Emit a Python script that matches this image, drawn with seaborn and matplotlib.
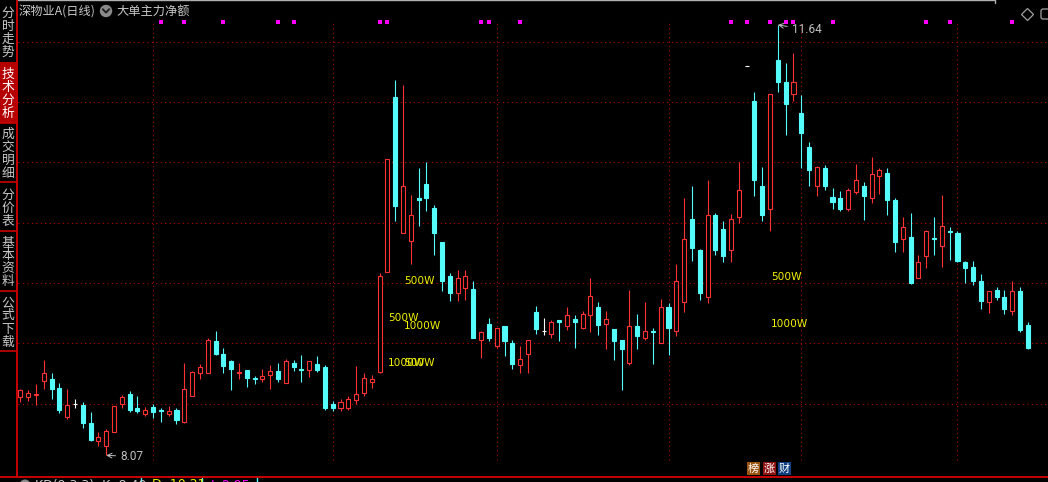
import matplotlib
matplotlib.use("Agg")
import matplotlib.pyplot as plt
import seaborn as sns
import numpy as np
import pandas as pd
from matplotlib.patches import Rectangle, Circle, FancyBboxPatch
from matplotlib.lines import Line2D

# ---------------- data (daily OHLC, 深物业A) ----------------
opens = [8.55, 8.55, 8.57, 8.69, 8.70, 8.63, 8.39, 8.50, 8.49, 8.34,
         8.19, 8.15, 8.26, 8.50, 8.58, 8.46, 8.41, 8.47, 8.45, 8.41,
         8.45, 8.35, 8.56, 8.75, 8.75, 9.02, 8.91, 8.85, 8.75, 8.78,
         8.71, 8.70, 8.74, 8.77, 8.67, 8.84, 8.79, 8.78, 8.83, 8.80,
         8.50, 8.46, 8.46, 8.53, 8.59, 8.68, 8.76, 9.59, 11.04, 9.91,
         9.85, 10.20, 10.32, 10.12, 9.84, 9.56, 9.42, 9.46, 9.45, 9.03,
         9.16, 8.98, 9.14, 9.00, 8.82, 8.91, 9.26, 9.10, 9.08, 9.19,
         9.14, 9.20, 9.13, 9.23, 9.30, 9.16, 9.12, 9.03, 8.84, 9.14,
         9.04, 9.10, 9.00, 9.30, 9.10, 9.34, 10.03, 9.77, 9.38, 10.06,
         9.95, 9.77, 10.05, 11.30, 11.01, 10.30, 10.11, 11.35, 11.17, 11.07,
         10.91, 10.63, 10.30, 10.45, 10.21, 10.20, 10.11, 10.25, 10.30, 10.20,
         10.39, 10.41, 10.19, 9.86, 9.88, 9.54, 9.72, 9.87, 9.81, 9.93,
         9.91, 9.67, 9.63, 9.52, 9.34, 9.44, 9.38, 9.27, 9.43, 9.15]
highs = [8.62, 8.61, 8.66, 8.86, 8.75, 8.67, 8.62, 8.54, 8.51, 8.43,
         8.26, 8.29, 8.48, 8.57, 8.60, 8.56, 8.47, 8.50, 8.46, 8.48,
         8.46, 8.84, 8.77, 8.83, 9.04, 9.10, 8.96, 8.86, 8.84, 8.78,
         8.73, 8.79, 8.82, 8.84, 8.87, 8.86, 8.90, 8.85, 8.89, 8.82,
         8.52, 8.54, 8.56, 8.81, 8.75, 8.74, 9.58, 10.53, 11.18, 11.14,
         10.23, 10.45, 10.50, 10.15, 9.84, 9.58, 9.61, 9.61, 9.52, 9.10,
         9.21, 9.13, 9.14, 9.03, 8.98, 9.03, 9.31, 9.21, 9.19, 9.19,
         9.30, 9.23, 9.27, 9.54, 9.34, 9.27, 9.12, 9.03, 9.44, 9.24,
         9.34, 9.13, 9.37, 9.33, 9.66, 10.20, 10.30, 9.78, 10.35, 10.08,
         10.01, 10.07, 10.50, 11.30, 11.08, 10.46, 11.07, 11.64, 11.32, 11.41,
         11.06, 10.67, 10.47, 10.48, 10.29, 10.26, 10.29, 10.49, 10.34, 10.54,
         10.45, 10.45, 10.20, 10.05, 10.08, 9.73, 9.94, 10.05, 10.23, 9.96,
         9.93, 9.68, 9.68, 9.57, 9.43, 9.47, 9.44, 9.52, 9.47, 9.18]
lows = [8.51, 8.52, 8.49, 8.62, 8.54, 8.42, 8.37, 8.46, 8.30, 8.19,
        8.15, 8.07, 8.26, 8.46, 8.43, 8.42, 8.40, 8.38, 8.35, 8.40,
        8.33, 8.34, 8.56, 8.70, 8.75, 8.90, 8.75, 8.61, 8.70, 8.64,
        8.66, 8.68, 8.62, 8.68, 8.67, 8.77, 8.68, 8.72, 8.76, 8.45,
        8.44, 8.44, 8.45, 8.50, 8.56, 8.63, 8.75, 9.59, 10.01, 9.91,
        9.66, 9.97, 10.10, 9.73, 9.43, 9.35, 9.35, 9.36, 9.04, 8.88,
        9.02, 8.96, 8.89, 8.79, 8.75, 8.75, 9.08, 9.07, 9.04, 9.02,
        9.11, 8.96, 9.12, 9.09, 9.07, 8.95, 8.86, 8.61, 8.82, 8.95,
        9.03, 8.83, 9.00, 8.90, 9.06, 9.26, 9.68, 9.36, 9.33, 9.73,
        9.67, 9.67, 10.00, 11.30, 10.22, 10.01, 9.93, 11.08, 10.73, 11.01,
        10.45, 10.30, 10.22, 10.27, 10.11, 10.10, 10.10, 10.24, 10.02, 10.16,
        10.24, 10.06, 9.76, 9.76, 9.49, 9.54, 9.62, 9.73, 9.63, 9.69,
        9.67, 9.50, 9.48, 9.28, 9.25, 9.36, 9.24, 9.23, 9.09, 8.95]
closes = [8.61, 8.59, 8.58, 8.75, 8.62, 8.45, 8.49, 8.50, 8.34, 8.20,
          8.22, 8.27, 8.48, 8.55, 8.45, 8.44, 8.45, 8.43, 8.44, 8.44,
          8.36, 8.62, 8.76, 8.80, 9.03, 8.91, 8.81, 8.79, 8.76, 8.71,
          8.70, 8.73, 8.77, 8.70, 8.85, 8.80, 8.78, 8.85, 8.78, 8.46,
          8.46, 8.51, 8.54, 8.58, 8.71, 8.70, 9.56, 10.53, 10.14, 10.30,
          10.06, 10.19, 10.20, 9.91, 9.52, 9.42, 9.54, 9.56, 9.04, 9.09,
          9.04, 9.13, 9.02, 8.83, 8.87, 9.03, 9.12, 9.10, 9.18, 9.18,
          9.23, 9.18, 9.24, 9.39, 9.15, 9.20, 9.02, 8.95, 9.14, 9.06,
          9.10, 9.09, 9.30, 9.13, 9.52, 9.86, 9.79, 9.42, 10.06, 9.77,
          9.72, 10.03, 10.27, 11.30, 10.35, 10.06, 11.07, 11.17, 10.98, 11.17,
          10.74, 10.44, 10.46, 10.30, 10.17, 10.11, 10.27, 10.35, 10.22, 10.40,
          10.44, 10.19, 9.84, 9.96, 9.50, 9.67, 9.93, 9.86, 9.97, 9.92,
          9.68, 9.62, 9.52, 9.35, 9.43, 9.38, 9.28, 9.43, 9.11, 8.96]

month_starts = [17, 40, 61, 83, 100, 120]          # vertical dotted separators
price_grid = [8.5, 9.0, 9.5, 10.0, 10.5, 11.0, 11.5]
big_order_days = [18, 21, 26, 33, 35, 46, 47, 59, 60, 64,
                  91, 93, 96, 98, 99, 104, 116, 119, 127]
flow_texts = ["500W", "500W", "1000W", "1000W", "500W", "500W", "1000W"]
flow_x = [49.1, 47.1, 49.1, 47.1, 49.1, 96.1, 96.1]
flow_y = [9.52, 9.21, 9.14, 8.84, 8.84, 9.55, 9.16]
low_day, low_price = 11, 8.07
high_day, high_price = 97, 11.64
sidebar_tabs = ["分时走势", "技术分析", "成交明细", "分价表", "基本资料", "公式下载"]

# ---------------- style ----------------
sns.set_theme(style="dark", rc={"axes.facecolor": "black", "figure.facecolor": "black"})
plt.rcParams["font.family"] = ["Noto Sans CJK SC", "DejaVu Sans"]

RED = "#ff3232"
CYAN = "#54fcfc"
GRID = "#b00000"
FRAME = "#c80000"
GRAY = "#c8c8c8"

W, H = 1048, 482
fig = plt.figure(figsize=(W / 100, H / 100), dpi=100, facecolor="black")
T = fig.dpi_scale_trans


def P(x, y):
    return (x / 100.0, (H - y) / 100.0)


ax = fig.add_axes([18 / W, 6 / H, 1030 / W, 456 / H])
ax.set_facecolor("black")
for s in ax.spines.values():
    s.set_visible(False)
ax.set_xticks([])
ax.set_yticks([])
ax.grid(False)

n = len(opens)
df = pd.DataFrame({"day": np.arange(n), "open": opens, "high": highs,
                   "low": lows, "close": closes})
df["color"] = np.where(df.close > df.open, RED, np.where(df.close < df.open, CYAN, "#ffffff"))

# grid
for p in price_grid:
    ax.axhline(p, color=GRID, lw=0.8, ls=(0, (1, 3)), zorder=0.5)
for m in month_starts:
    ax.axvline(m, ymin=0.035, ymax=0.993, color=GRID, lw=0.8, ls=(0, (1, 3)), zorder=0.5)

# wicks
ax.vlines(df.day, df.low, df.high, colors=df.color, linewidth=0.8, zorder=2)

bw = 0.52
up = df[df.close > df.open]
dn = df[df.close < df.open]
fl = df[df.close == df.open]
ax.bar(up.day, up.close - up.open, bottom=up.open, width=bw, facecolor="black",
       edgecolor=RED, linewidth=0.8, zorder=3)
ax.bar(dn.day, dn.close - dn.open, bottom=dn.open, width=bw, facecolor=CYAN,
       edgecolor=CYAN, linewidth=0.8, zorder=3)
ax.bar(fl.day, np.zeros(len(fl)), bottom=fl.open, width=bw, facecolor="white",
       edgecolor="white", linewidth=0.8, zorder=3)

ax.set_xlim(-0.2945, 131.59)
ax.set_ylim(7.899, 11.680)

# big-order markers along the top
marks = pd.DataFrame({"day": big_order_days, "y": [11.66] * len(big_order_days)})
sns.scatterplot(data=marks, x="day", y="y", ax=ax, marker="s", s=7, color="#ff00ff",
                linewidth=0, zorder=4, legend=False)
ax.set_xlabel("")
ax.set_ylabel("")
ax.set_xlim(-0.2945, 131.59)
ax.set_ylim(7.899, 11.680)

# flow labels
for t, xx, yy in zip(flow_texts, flow_x, flow_y):
    ax.text(xx, yy, t, color="#f0f000", fontsize=7.6, ha="left", va="center",
            family="DejaVu Sans", zorder=5)

# high/low annotations
ax.annotate("8.07", xy=(low_day, low_price), xytext=(14, -1), textcoords="offset pixels",
            color="#c0c0c0", fontsize=8.5, family="Roboto", ha="left", va="center",
            arrowprops=dict(arrowstyle="->", color="#c0c0c0", lw=0.7, shrinkA=1, shrinkB=0))
ax.annotate("11.64", xy=(high_day, high_price), xytext=(14, -5), textcoords="offset pixels",
            color="#c0c0c0", fontsize=8.5, family="Roboto", ha="left", va="center",
            arrowprops=dict(arrowstyle="->", color="#c0c0c0", lw=0.7, shrinkA=1, shrinkB=0))

# ---------------- chrome ----------------
def line(xs, ys, color, lw=1.0, **kw):
    pts = [P(a, b) for a, b in zip(xs, ys)]
    fig.add_artist(Line2D([q[0] for q in pts], [q[1] for q in pts], color=color,
                          lw=lw, transform=T, **kw))


def rect(x, y, w, h, fc, ec="none", lw=0):
    x0, y0 = P(x, y + h)
    fig.add_artist(Rectangle((x0, y0), w / 100, h / 100, facecolor=fc, edgecolor=ec,
                             lw=lw, transform=T))


# frame lines
line([17, 17], [0, 477], FRAME, lw=1.4)
line([0, W], [476.5, 476.5], FRAME, lw=1.4)
line([18, 995], [0.5, 0.5], "#b0b0b0", lw=1.0)
line([995, 995], [0, 3], "#b0b0b0", lw=1.0)

# sidebar
bounds = [(0, 61), (62, 122), (123, 181), (182, 230), (231, 290), (291, 350)]
rect(0, 62, 16, 60.5, "#b40000")
for yb in [122.7, 181.7, 230.5, 290.5, 350.5]:
    line([0, 17], [yb, yb], FRAME, lw=1.2)
for (top, bot), tab in zip(bounds, sidebar_tabs):
    mid = (top + bot) / 2 + 2
    k = len(tab)
    pitch = 13.0
    for i, ch in enumerate(tab):
        cy = mid + (i - (k - 1) / 2) * pitch
        fig.text(*P(8, cy), ch, transform=T, color="white" if tab == "技术分析" else GRAY,
                 fontsize=9.2, ha="center", va="center")

# title row
fig.text(*P(19, 11), "深物业A(日线)", transform=T, color=GRAY, fontsize=8.8,
         ha="left", va="center")
fig.add_artist(Circle(P(106, 11), 0.062, transform=T, facecolor="#8a8a8a", edgecolor="none"))
line([102.8, 106, 109.2], [9.2, 12.6, 9.2], "#1a1a1a", lw=1.3)
fig.text(*P(116, 11), "大单主力净额", transform=T, color=GRAY, fontsize=8.8,
         ha="left", va="center")

# top-right icons
fig.add_artist(Line2D([P(1027, 13.5)[0]], [P(1027, 13.5)[1]], marker="D", markersize=6.5,
                      markerfacecolor="none", markeredgecolor="#a0a0a0", mew=0.9,
                      transform=T))
x0, y0 = P(1041, 19)
fig.add_artist(FancyBboxPatch((x0, y0), 0.12, 0.10, boxstyle="round,pad=0,rounding_size=0.02",
                              facecolor="none", edgecolor="#a0a0a0", lw=0.9, transform=T))

# badges
for xb, ch, c in [(747, "榜", "#9a5410"), (763, "涨", "#8e1212"), (778, "财", "#0f3f80")]:
    rect(xb, 462, 13, 13, c)
    fig.text(*P(xb + 6.5, 468.5), ch, transform=T, color="white", fontsize=8,
             ha="center", va="center")

# bottom indicator status row (mostly cut off)
fig.add_artist(Circle(P(25, 485), 0.055, transform=T, facecolor="#8a8a8a", edgecolor="none"))
fig.text(*P(35, 478.5), "KD(9,3,3)  K: 8.40", transform=T, color=GRAY, fontsize=9,
         ha="left", va="top", family="DejaVu Sans")
fig.text(*P(152, 478.5), "D: 10.21", transform=T, color="#f0f000", fontsize=9,
         ha="left", va="top", family="DejaVu Sans")
fig.text(*P(211, 478.5), "J: 9.95", transform=T, color="#ff00ff", fontsize=9,
         ha="left", va="top", family="DejaVu Sans")
for xs in [141, 202, 257]:
    line([xs, xs], [477.5, 482], CYAN, lw=1.0)

fig.savefig("out.png", dpi=100, facecolor="black")
